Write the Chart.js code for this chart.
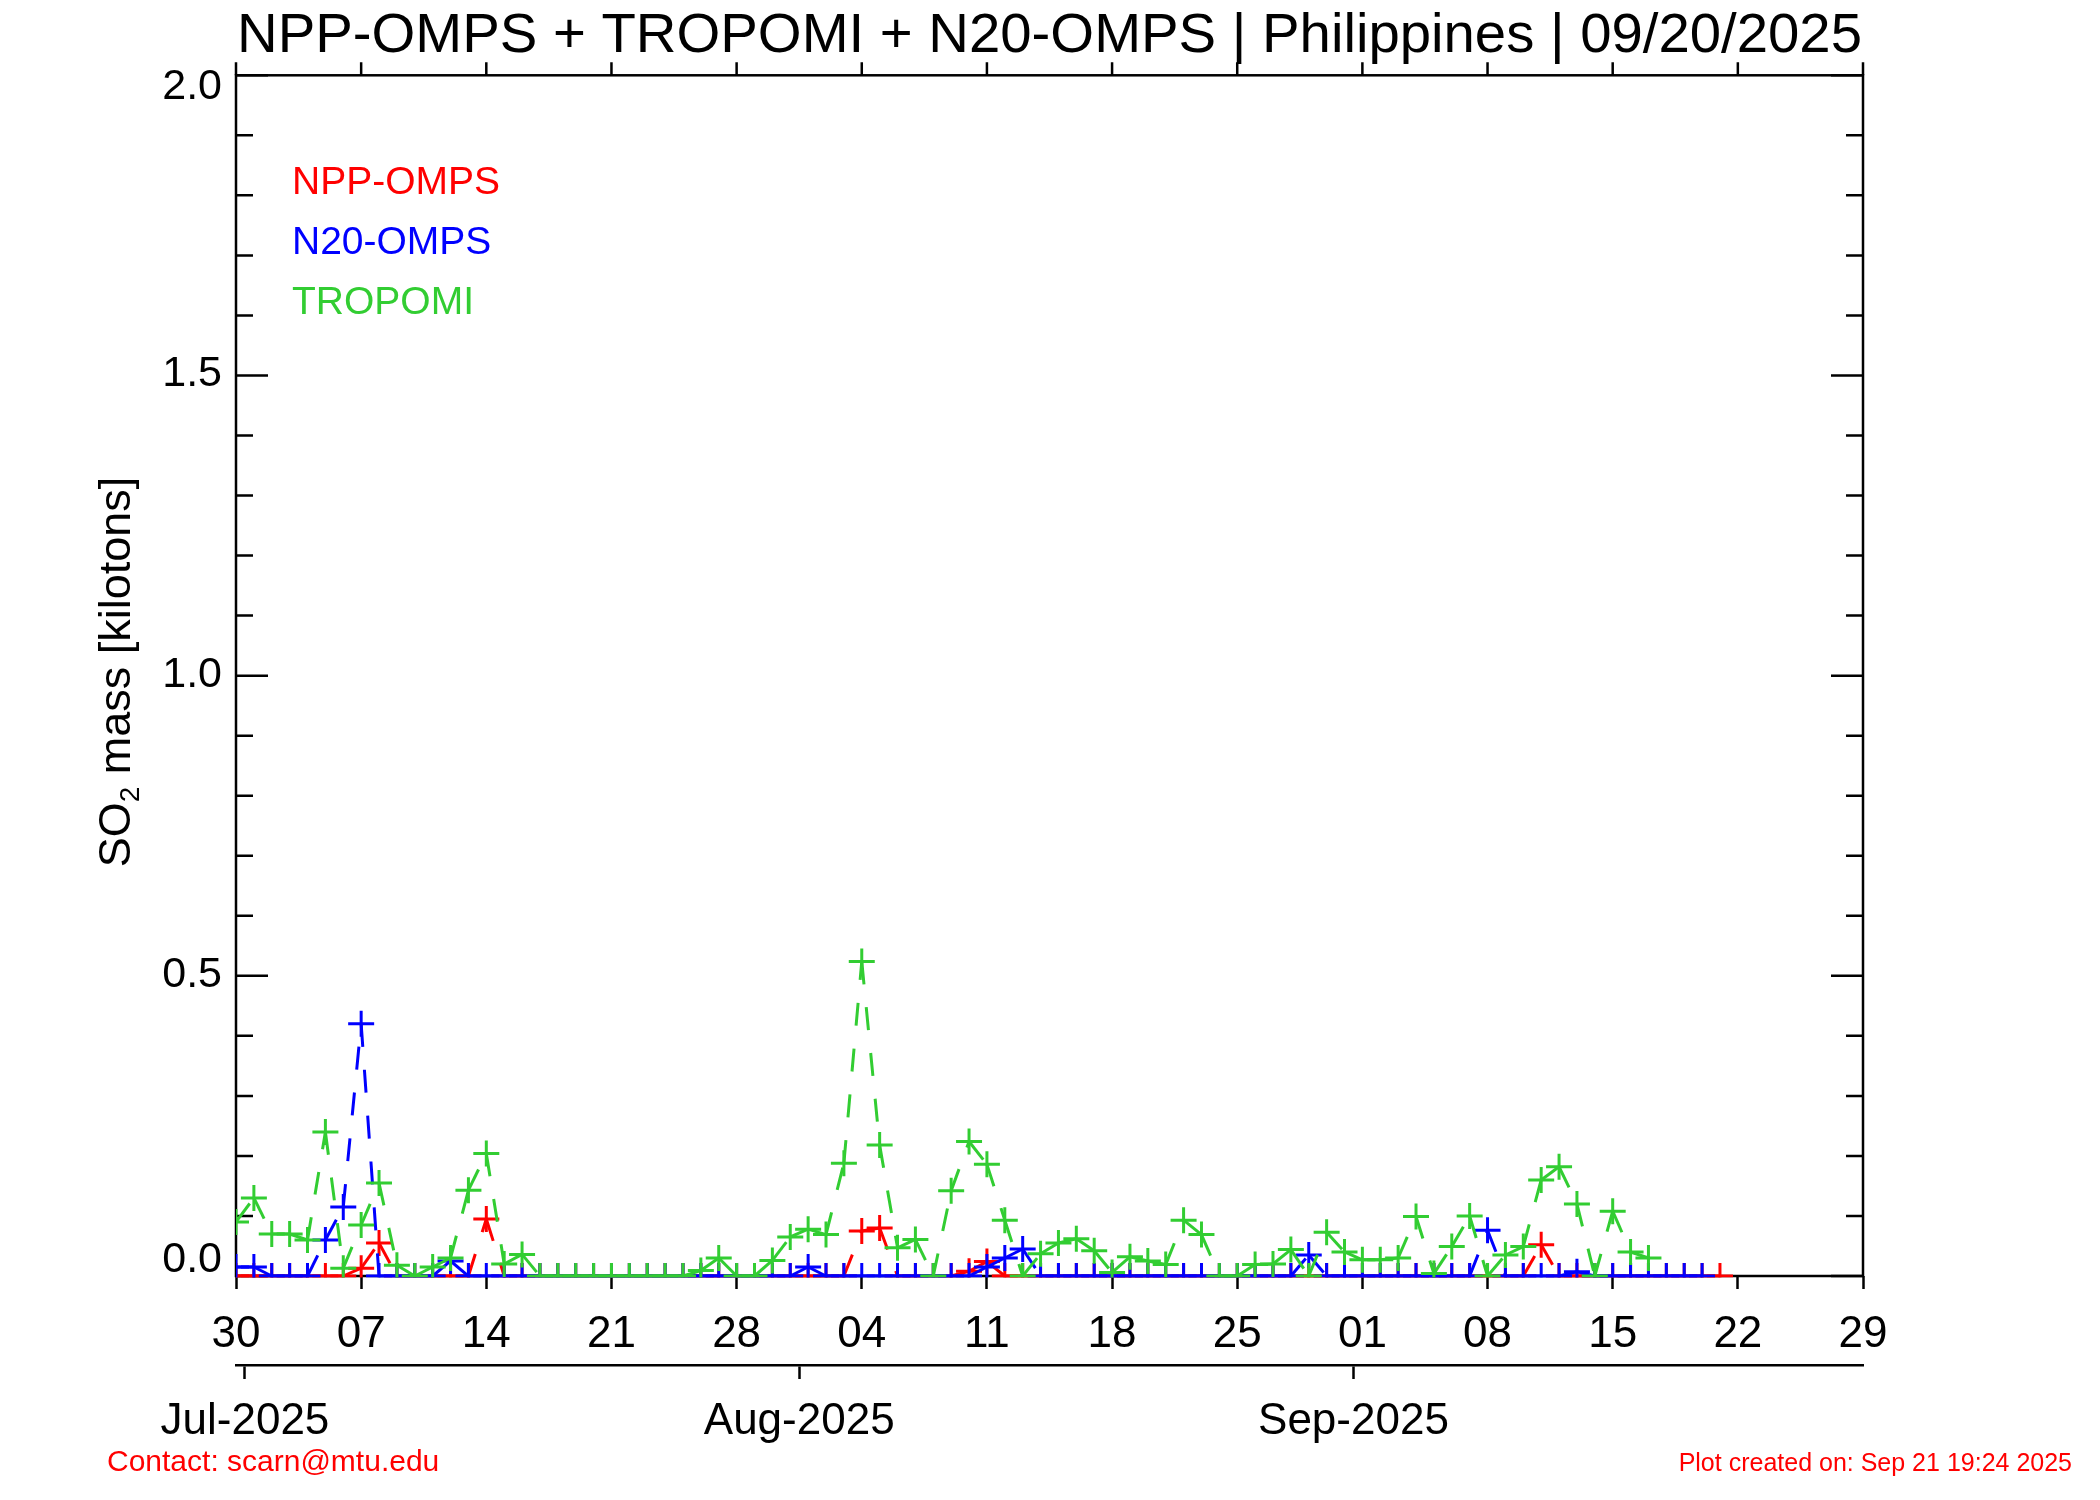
<!DOCTYPE html>
<html>
<head>
<meta charset="utf-8">
<title>SO2 mass - Philippines</title>
<script src="https://cdn.jsdelivr.net/npm/chart.js@4.4.1/dist/chart.umd.min.js"></script>
<style>
    body { margin: 0; background: #fff; }
    #wrap { position: relative; width: 2100px; height: 1500px; }
    #so2Chart { display: block; }
    .note {
        position: absolute;
        color: #ff0000;
        font-family: 'Liberation Sans', Arial, Helvetica, sans-serif;
        white-space: nowrap;
    }
    #contact { left: 107px; top: 1446px; font-size: 30px; line-height: 30px; }
    #created { right: 28px; top: 1450px; font-size: 25px; line-height: 25px; }
</style>
</head>
<body>
<div id="wrap">
    <canvas id="so2Chart" width="2100" height="1500"></canvas>
    <div class="note" id="contact">Contact: scarn@mtu.edu</div>
    <div class="note" id="created">Plot created on: Sep 21 19:24 2025</div>
</div>
<script>
const FONT = "'Liberation Sans', Arial, Helvetica, sans-serif";

// x values are days counted from 30 Jun 2025, one value per day
const dayTickLabels = ['30', '07', '14', '21', '28', '04', '11', '18', '25', '01', '08', '15', '22', '29'];
const monthTickDays = [0.5, 31.5, 62.5];
const monthTickLabels = ['Jul-2025', 'Aug-2025', 'Sep-2025'];
const yTickLabels = ['0.0', '0.5', '1.0', '1.5', '2.0'];

// SO2 mass [kilotons], 30 Jun -> 21 Sep
const nppOmps = [
    0, 0, 0, 0, 0, 0, 0,
    0.013, 0.055, 0, 0, 0, 0, 0,
    0.095, 0, 0, 0, 0, 0, 0,
    0, 0, 0, 0, 0, 0, 0,
    0, 0, 0, 0, 0, 0, 0,
    0.075, 0.08, 0, 0, 0, 0, 0.008,
    0.024, 0, 0, 0, 0, 0, 0,
    0, 0, 0, 0, 0, 0, 0,
    0, 0, 0, 0, 0, 0, 0,
    0, 0, 0, 0, 0, 0, 0,
    0, 0, 0, 0.052, 0, 0, 0,
    0, 0, 0, 0, 0, 0, 0
];

// 30 Jun -> 20 Sep
const n20Omps = [
    0.015, 0.015, 0, 0, 0, 0.06, 0.115,
    0.42, 0, 0, 0, 0, 0.025, 0,
    0, 0, 0, 0, 0, 0, 0,
    0, 0, 0, 0, 0, 0, 0,
    0, 0, 0, 0, 0.015, 0, 0,
    0, 0, 0, 0, 0, 0, 0,
    0.015, 0.03, 0.045, 0, 0, 0, 0,
    0, 0, 0, 0, 0, 0, 0,
    0, 0, 0, 0, 0.035, 0, 0,
    0, 0, 0, 0, 0, 0, 0,
    0.076, 0, 0, 0, 0, 0.007, 0,
    0, 0, 0, 0, 0, 0
];

// 30 Jun -> 17 Sep
const tropomi = [
    0.09, 0.13, 0.07, 0.07, 0.06, 0.24, 0.013,
    0.085, 0.155, 0.018, 0, 0.015, 0.03, 0.143,
    0.204, 0.02, 0.036, 0, 0, 0, 0,
    0, 0, 0, 0, 0, 0.009, 0.03,
    0, 0, 0.026, 0.065, 0.078, 0.069, 0.188,
    0.524, 0.218, 0.047, 0.061, 0, 0.142, 0.224,
    0.186, 0.093, 0, 0.037, 0.055, 0.062, 0.042,
    0.006, 0.032, 0.025, 0.019, 0.093, 0.069, 0,
    0, 0.019, 0.02, 0.044, 0, 0.073, 0.04,
    0.027, 0.027, 0.03, 0.099, 0.004, 0.049, 0.1,
    0, 0.035, 0.049, 0.16, 0.182, 0.12, 0,
    0.108, 0.04, 0.03
];

Chart.defaults.font.family = FONT;
Chart.defaults.color = '#000';

function toPoints(values) {
    return values.map((v, i) => ({ x: i, y: v }));
}

function makeSeries(label, values, color, order) {
    return {
        label: label,
        data: toPoints(values),
        borderColor: color,
        backgroundColor: color,
        borderWidth: 3,
        borderDash: [23, 23],
        pointStyle: 'cross',
        pointRadius: 13,
        pointBorderWidth: 3,
        pointBorderColor: color,
        order: order,
        clip: { left: 0, top: 0, right: 0, bottom: 1.5 },
        // restart the dash at every point (IDL style)
        segment: {
            borderDashOffset: ctx => (ctx.p0DataIndex % 2) * 46
        }
    };
}

function isMajor(v) {
    return Math.round(v * 10) % 5 === 0;
}

// frame, inward y ticks, top ticks, y labels, legend and y title
const idlFrame = {
    id: 'idlFrame',
    beforeDatasetsDraw(chart) {
        const { ctx, chartArea: area } = chart;
        const x = chart.scales.x;
        const y = chart.scales.y;
        ctx.save();
        ctx.strokeStyle = '#000';
        ctx.lineWidth = 2.5;
        ctx.strokeRect(area.left, area.top, area.right - area.left, area.bottom - area.top);
        ctx.beginPath();
        y.ticks.forEach(t => {
            const py = y.getPixelForValue(t.value);
            const len = isMajor(t.value) ? 32 : 17;
            ctx.moveTo(area.left, py);
            ctx.lineTo(area.left + len, py);
            ctx.moveTo(area.right, py);
            ctx.lineTo(area.right - len, py);
        });
        x.ticks.forEach(t => {
            const px = x.getPixelForValue(t.value);
            ctx.moveTo(px, area.top);
            ctx.lineTo(px, area.top - 13);
        });
        ctx.stroke();
        ctx.restore();
    },
    afterDraw(chart) {
        const { ctx, chartArea: area } = chart;
        const y = chart.scales.y;
        ctx.save();

        // y tick labels (IDL nudges the end labels inside)
        ctx.font = '43px ' + FONT;
        ctx.fillStyle = '#000';
        ctx.textAlign = 'right';
        ctx.textBaseline = 'middle';
        y.ticks.filter(t => isMajor(t.value)).forEach(t => {
            const idx = Math.round(t.value * 2);
            let shift = -1;
            if (idx === 0) shift = -16;
            if (idx === yTickLabels.length - 1) shift = 12;
            ctx.fillText(yTickLabels[idx], area.left - 14, y.getPixelForValue(t.value) + shift);
        });

        // legend as coloured names
        ctx.font = '39px ' + FONT;
        ctx.textAlign = 'left';
        chart.data.datasets.forEach((ds, i) => {
            ctx.fillStyle = ds.borderColor;
            ctx.fillText(ds.label, area.left + 56, 183 + i * 60);
        });

        // y axis title with subscript
        ctx.translate(130, 672);
        ctx.rotate(-Math.PI / 2);
        ctx.fillStyle = '#000';
        ctx.textBaseline = 'alphabetic';
        const big = '45px ' + FONT;
        const small = '28px ' + FONT;
        ctx.font = big;
        const w1 = ctx.measureText('SO').width;
        const w3 = ctx.measureText(' mass [kilotons]').width;
        ctx.font = small;
        const w2 = ctx.measureText('2').width;
        let pos = -(w1 + w2 + w3) / 2;
        ctx.font = big;
        ctx.fillText('SO', pos, 0);
        pos += w1;
        ctx.font = small;
        ctx.fillText('2', pos, 9);
        pos += w2;
        ctx.font = big;
        ctx.fillText(' mass [kilotons]', pos, 0);

        ctx.restore();
    }
};

const chart = new Chart(document.getElementById('so2Chart'), {
    type: 'line',
    data: {
        datasets: [
            makeSeries('NPP-OMPS', nppOmps, '#ff0000', 2),
            makeSeries('N20-OMPS', n20Omps, '#0000ff', 1),
            makeSeries('TROPOMI', tropomi, '#32cd32', 0)
        ]
    },
    options: {
        responsive: false,
        animation: false,
        events: [],
        layout: {
            padding: { left: 0, right: 237, top: 0, bottom: 0 }
        },
        plugins: {
            legend: { display: false },
            tooltip: { enabled: false },
            title: {
                display: true,
                fullSize: false,
                text: 'NPP-OMPS + TROPOMI + N20-OMPS | Philippines | 09/20/2025',
                color: '#000',
                font: { size: 56.3, weight: 'normal', lineHeight: 1 },
                padding: { top: 8, bottom: 11 }
            }
        },
        scales: {
            x: {
                type: 'linear',
                position: 'bottom',
                weight: 0,
                min: 0,
                max: 91,
                ticks: {
                    stepSize: 7,
                    autoSkip: false,
                    maxRotation: 0,
                    padding: 24,
                    color: '#000',
                    font: { size: 44, lineHeight: 1 },
                    callback: v => dayTickLabels[Math.round(v / 7)]
                },
                grid: {
                    drawOnChartArea: false,
                    drawTicks: true,
                    tickLength: 13,
                    tickWidth: 2.5,
                    tickColor: '#000'
                },
                border: { display: false },
                afterFit: s => { s.height = 89; }
            },
            x2: {
                type: 'linear',
                position: 'bottom',
                weight: 1,
                min: 0,
                max: 91,
                afterBuildTicks: s => {
                    s.ticks = monthTickDays.map(v => ({ value: v }));
                },
                ticks: {
                    autoSkip: false,
                    maxRotation: 0,
                    padding: 21,
                    color: '#000',
                    font: { size: 44, lineHeight: 1 },
                    callback: (v, i) => monthTickLabels[i]
                },
                grid: {
                    drawOnChartArea: false,
                    drawTicks: true,
                    tickLength: 14,
                    tickWidth: 2.5,
                    tickColor: '#000'
                },
                border: { display: true, color: '#000', width: 2.5 },
                afterFit: s => { s.height = 135; }
            },
            y: {
                min: 0,
                max: 2,
                ticks: { display: false, stepSize: 0.1 },
                grid: { display: false },
                border: { display: false },
                afterFit: s => { s.width = 236; }
            }
        }
    },
    plugins: [idlFrame]
});
</script>
</body>
</html>
